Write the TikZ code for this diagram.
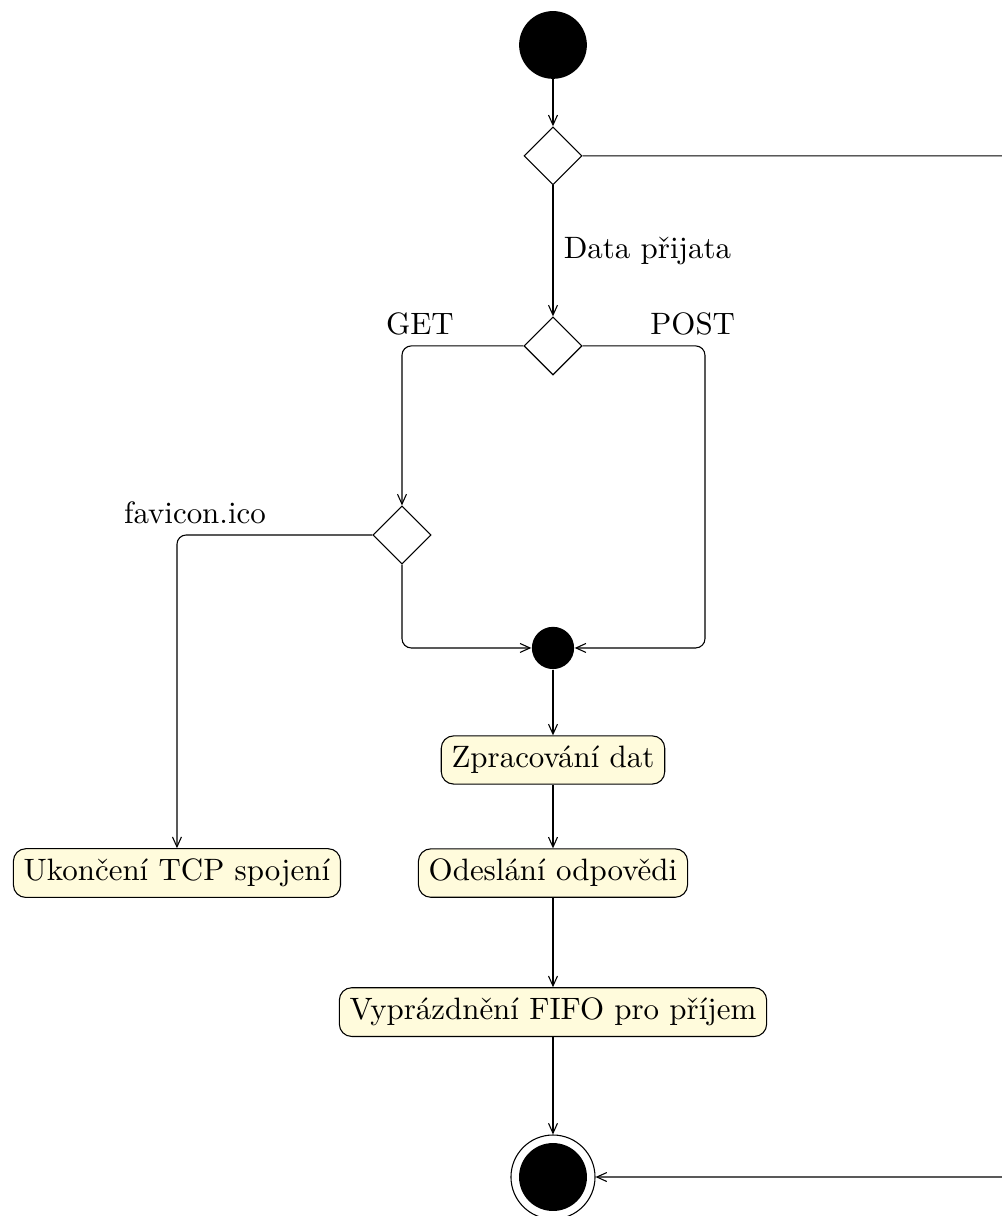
\documentclass[tikz,border=0pt]{standalone}
\usepackage{tikz}
\usetikzlibrary{shapes.geometric,arrows.meta,positioning}
\definecolor{akcezluta}{HTML}{FFFBDC}

\begin{document}
\begin{tikzpicture}[
    >={Straight Barb[length=3.2pt,width=2.9pt]},
    pocatek/.style={circle, fill=black, minimum size=0.77cm, inner sep=0pt},
    uzel/.style={circle, fill=black, minimum size=0.48cm, inner sep=0pt},
    konec/.style={circle, draw, line width=0.35pt, minimum size=0.955cm, inner sep=0pt,
      path picture={\fill (path picture bounding box.center) circle (0.386cm);}},
    rozhod/.style={diamond, draw, line width=0.35pt, minimum size=0.66cm, inner sep=0pt,
      aspect=1},
    akce/.style={rectangle, rounded corners=4pt, draw, line width=0.35pt, fill=akcezluta,
      align=center, inner sep=3.33pt},
    sipka/.style={->, draw=black, line width=0.35pt, rounded corners=3pt}
  ]
    \useasboundingbox (-6.284,0.511) rectangle (5.091,-13.307);

    \node[pocatek] (start)  at (0,0) {};
    \node[rozhod]  (cekani) at (0,-1.26) {};
    \node[rozhod]  (metoda) at (0,-3.42) {};
    \node[rozhod]  (ikona)  at (-1.716,-5.568) {};
    \node[uzel]    (spoj)   at (0,-6.852) {};

    \node[akce] (zprac) at (0,-8.125) {Zpracování dat};
    \node[akce] (odesl) at (0,-9.41)  {Odeslání odpovědi};
    \node[akce] (ukon)  at (-4.273,-9.41) {Ukončení TCP spojení};
    \node[akce] (vypr)  at (0,-10.99) {Vyprázdnění FIFO pro příjem};

    \node[konec] (cil) at (0,-12.864) {};

    \coordinate (ohybpost) at (1.727,-3.42);
    \coordinate (vpravo)   at (5.4,-1.26);

    \draw[sipka] (start) -- (cekani);
    \draw[sipka] (cekani) -- node[right] {Data přijata} (metoda);
    \draw[sipka] (metoda.west) -| node[above, pos=.426] {GET} (ikona.north);
    \draw[sipka] (metoda.east) -- node[above, pos=.9] {POST} (ohybpost) |- (spoj.east);
    \draw[sipka] (ikona.south) |- (spoj.west);
    \draw[sipka] (ikona.west) -| node[above, pos=.454] {favicon.ico} (ukon.north);
    \draw[sipka] (spoj) -- (zprac);
    \draw[sipka] (zprac) -- (odesl);
    \draw[sipka] (odesl) -- (vypr);
    \draw[sipka] (vypr) -- (cil);
    \draw[sipka] (cekani.east) -- (vpravo) |- (cil.east);
  \end{tikzpicture}
\end{document}
